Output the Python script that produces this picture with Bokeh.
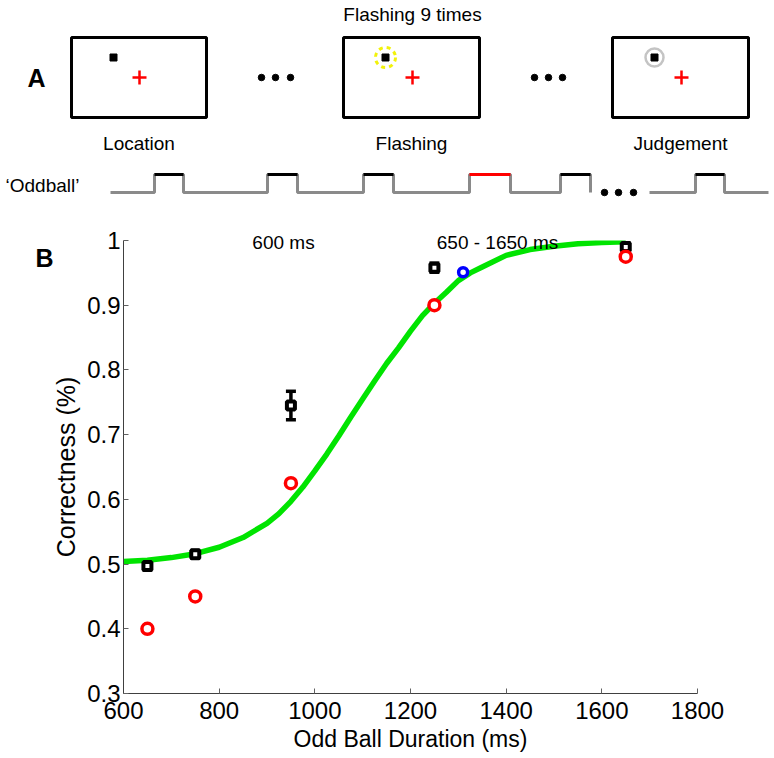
from bokeh.plotting import figure
from bokeh.layouts import column
from bokeh.models import (Range1d, FixedTicker, CustomJSTickFormatter,
                          Whisker, TeeHead, ColumnDataSource)
from bokeh.core.properties import value
from bokeh.embed import file_html
from bokeh.resources import INLINE

FONT = "Liberation Sans"

# ---------------- data (panel B) ----------------
durations = [650, 750, 950, 1250, 1650]
correct_mean = [0.497, 0.515, 0.745, 0.958, 0.990]
correct_err = [0.006, 0.006, 0.022, 0.007, 0.006]
model_pred = [0.40, 0.45, 0.625, 0.90, 0.975]
threshold_x = [1310]
threshold_y = [0.951]
fit_x = [600, 650, 700, 750, 800, 850, 900, 925, 950, 975, 1000, 1025, 1050,
         1075, 1100, 1125, 1150, 1175, 1200, 1225, 1250, 1275, 1300, 1325,
         1350, 1400, 1450, 1500, 1550, 1600, 1650]
fit_y = [0.504, 0.506, 0.510, 0.516, 0.526, 0.541, 0.563, 0.578, 0.597, 0.619,
         0.644, 0.670, 0.698, 0.727, 0.755, 0.783, 0.810, 0.834, 0.860, 0.884,
         0.903, 0.920, 0.938, 0.950, 0.959, 0.977, 0.986, 0.991, 0.995, 0.997,
         0.998]
x_ticks = [600, 800, 1000, 1200, 1400, 1600, 1800]
y_ticks = [0.3, 0.4, 0.5, 0.6, 0.7, 0.8, 0.9, 1.0]

# ---------------- panel A (schematic, page-pixel layout) ----------------
screen_labels = ["Location", "Flashing", "Judgement"]
W, HA = 774, 270
pa = figure(width=W, height=HA, x_range=Range1d(0, W), y_range=Range1d(HA, 0),
            output_backend="svg", toolbar_location=None, min_border=0,
            x_axis_type=None, y_axis_type=None)
pa.grid.visible = False
pa.outline_line_color = None
pa.background_fill_color = None
pa.border_fill_color = None
try:
    pa.frame_align = False
except Exception:
    pass
pa.styles = {"z-index": "2", "position": "relative"}

box_left = [71, 343, 612]
box_right = [206, 479, 748]
pa.quad(left=box_left, right=box_right, top=[37] * 3, bottom=[117] * 3,
        fill_color=None, line_color="black", line_width=3)
dot_x = [113, 385, 654]
cross_x = [139, 412, 681]
pa.circle(x=[385], y=[57], radius=10, fill_color=None, line_color="#f2f20a",
          line_width=3, line_dash="4 4")
pa.circle(x=[654], y=[57], radius=9, fill_color=None, line_color="#c4c4c4",
          line_width=2.5)
pa.scatter(dot_x, [57] * 3, marker="square", size=7, color="black")
pa.scatter(cross_x, [77] * 3, marker="cross", size=14, line_color="red", line_width=2.5)
pa.scatter([261, 275, 290, 534, 548, 562], [77] * 6, size=6.5, color="black")

pa.text(x=[(l + r) / 2 for l, r in zip(box_left, box_right)], y=[143] * 3,
        text=screen_labels, text_font=value(FONT), text_font_size=value("19px"),
        text_align="center", text_baseline="middle", color="black")
pa.text(x=[412], y=[14], text=["Flashing 9 times"], text_font=value(FONT),
        text_font_size=value("19px"), text_align="center", text_baseline="middle")
pa.text(x=[42], y=[185], text=["\u2018Oddball\u2019"], text_font=value(FONT),
        text_font_size=value("19px"), text_align="center", text_baseline="middle")
pa.text(x=[36, 44], y=[77, 257], text=["A", "B"], text_font=value(FONT),
        text_font_size=value("25px"), text_font_style="bold",
        text_align="center", text_baseline="middle")
pa.text(x=[283, 497], y=[242, 242], text=["600 ms", "650 - 1650 ms"],
        text_font=value(FONT), text_font_size=value("19px"),
        text_align="center", text_baseline="middle")

# oddball wave
rise = [154, 267, 363, 469, 560, 695]
fall = [183, 297, 393, 510, 590, 724]
top_colors = ["black", "black", "black", "red", "black", "black"]
lo, hi = 192, 174
xs1 = [110]
ys1 = [lo]
for r, f in zip(rise[:5], fall[:5]):
    xs1 += [r, r, f, f]
    ys1 += [lo, hi, hi, lo]
xs2 = [649, rise[5], rise[5], fall[5], fall[5], 768]
ys2 = [lo, lo, hi, hi, lo, lo]
pa.multi_line(xs=[xs1, xs2], ys=[ys1, ys2], line_color="#8a8a8a", line_width=3)
pa.segment(x0=rise, x1=fall, y0=[hi] * 6, y1=[hi] * 6, line_color=top_colors, line_width=3)
pa.scatter([604, 618, 633], [lo] * 3, size=6.5, color="black")

# ---------------- panel B ----------------
PB_TOP = 210
HB = 758 - PB_TOP
pb = figure(width=W, height=HB, x_range=Range1d(600, 1800), y_range=Range1d(0.3, 1.0),
            output_backend="svg", toolbar_location=None,
            min_border_left=123, min_border_right=77, min_border_top=240 - PB_TOP,
            min_border_bottom=65)
pb.grid.visible = False
pb.outline_line_color = None
pb.background_fill_color = None
pb.border_fill_color = None
try:
    pb.frame_align = False
except Exception:
    pass
pb.styles = {"margin-top": f"-{HA - PB_TOP}px", "z-index": "1", "position": "relative"}

for ax in (pb.xaxis, pb.yaxis):
    ax.major_tick_in = 5
    ax.major_tick_out = 0
    ax.minor_tick_line_color = None
    ax.axis_line_color = "#404040"
    ax.major_tick_line_color = "#606060"
    ax.major_label_text_font = FONT
    ax.major_label_text_font_size = "24px"
    ax.major_label_text_color = "black"
    ax.axis_label_text_font = FONT
    ax.axis_label_text_font_style = "normal"
    ax.axis_label_text_color = "black"

pb.xaxis.axis_label_text_font_size = "23px"
pb.yaxis.axis_label_text_font_size = "25px"
pb.xaxis.ticker = FixedTicker(ticks=x_ticks)
pb.yaxis.ticker = FixedTicker(ticks=y_ticks)
pb.yaxis.formatter = CustomJSTickFormatter(
    code="return Math.abs(tick - 1) < 1e-9 ? '1' : tick.toFixed(1);")
pb.xaxis.axis_label = "Odd Ball Duration (ms)"
pb.yaxis.axis_label = "Correctness (%)"
pb.xaxis.major_label_standoff = 8
pb.xaxis.axis_label_standoff = 4
pb.yaxis.major_label_standoff = 3
pb.yaxis.axis_label_standoff = 4

pb.line(fit_x, fit_y, line_color="#00e400", line_width=5.5)

src = ColumnDataSource(dict(
    x=durations, y=correct_mean,
    upper=[m + e for m, e in zip(correct_mean, correct_err)],
    lower=[m - e for m, e in zip(correct_mean, correct_err)]))
pb.add_layout(Whisker(source=src, base="x", upper="upper", lower="lower",
                      line_color="black", line_width=3.5,
                      upper_head=TeeHead(size=10, line_width=3.5, line_color="black"),
                      lower_head=TeeHead(size=10, line_width=3.5, line_color="black")))
pb.scatter("x", "y", source=src, marker="square", size=8, line_width=4,
           line_color="black", fill_color="white")
pb.scatter(durations, model_pred, marker="circle", size=11, line_width=3.5,
           line_color="red", fill_color="white")
pb.scatter(threshold_x, threshold_y, marker="circle", size=9, line_width=3.5,
           line_color="blue", fill_color="white")

layout = column(pa, pb, spacing=0)
open("out.html", "w").write(file_html(layout, INLINE))
